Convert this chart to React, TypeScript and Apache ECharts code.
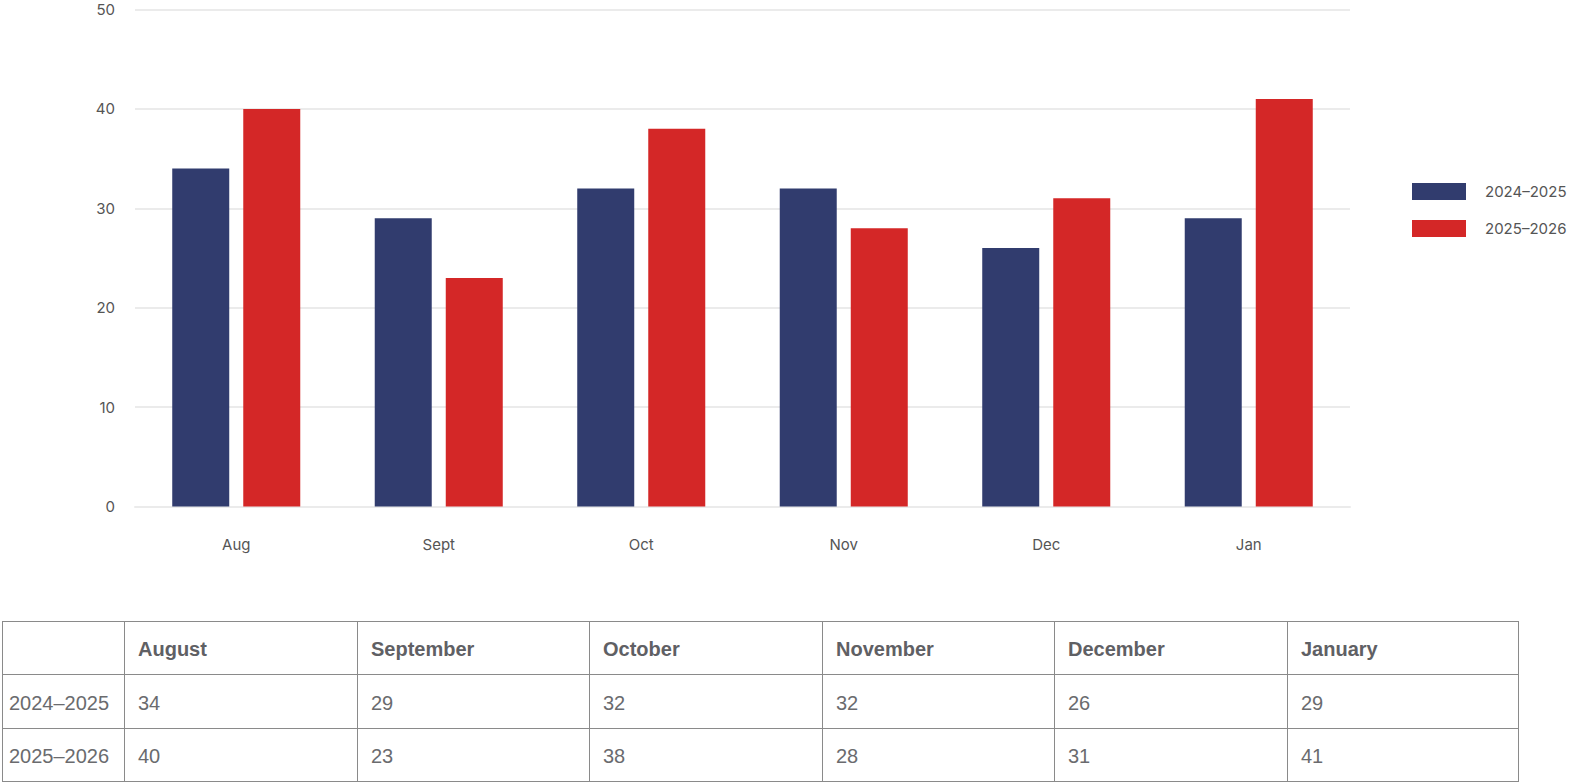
import React, { useEffect, useRef } from "react";
import * as echarts from "echarts";

const categories = ["Aug", "Sept", "Oct", "Nov", "Dec", "Jan"];
const monthNames = ["August", "September", "October", "November", "December", "January"];
const seriesNames = ["2024–2025", "2025–2026"];
const values2425 = [34, 29, 32, 32, 26, 29];
const values2526 = [40, 23, 38, 28, 31, 41];
const colors = ["#313c6e", "#d42727"];

const W = 1574;
const H = 783;
const colEdges = [2, 124, 357, 589, 822, 1054, 1287, 1519];
const rowEdges = [621, 674, 728, 782];

function Table() {
  const rows: { label: string; cells: string[]; bold: boolean }[] = [
    { label: "", cells: monthNames, bold: true },
    { label: seriesNames[0], cells: values2425.map(String), bold: false },
    { label: seriesNames[1], cells: values2526.map(String), bold: false },
  ];
  const border = "1px solid #8a8a8a";
  const cells: React.ReactNode[] = [];
  rows.forEach((r, ri) => {
    const all = [r.label, ...r.cells];
    all.forEach((txt, ci) => {
      const x0 = colEdges[ci];
      const x1 = colEdges[ci + 1];
      const y0 = rowEdges[ri];
      const y1 = rowEdges[ri + 1];
      cells.push(
        <div
          key={ri + "-" + ci}
          style={{
            position: "absolute",
            left: x0,
            top: y0,
            width: x1 - x0,
            height: y1 - y0,
            boxSizing: "border-box",
            borderLeft: border,
            borderTop: border,
            borderRight: ci === all.length - 1 ? border : undefined,
            borderBottom: ri === rows.length - 1 ? border : undefined,
            display: "flex",
            alignItems: "center",
            paddingLeft: ci === 0 ? 6 : 13,
            paddingTop: 3,
            fontFamily: "'Liberation Sans', Arial, sans-serif",
            fontSize: 20,
            fontWeight: r.bold ? 700 : 400,
            color: r.bold ? "#5f6064" : "#6a6b6e",
            whiteSpace: "nowrap",
          }}
        >
          {txt}
        </div>
      );
    });
  });
  return <>{cells}</>;
}

export default function App() {
  const ref = useRef<HTMLDivElement>(null);
  useEffect(() => {
    if (!ref.current) return;
    const chart = echarts.init(ref.current, undefined, { renderer: "svg" });
    const labelFont = { fontFamily: "Inter, 'Open Sans', sans-serif", fontSize: 15, color: "#555" };
    chart.setOption({
      animation: false,
      color: colors,
      grid: { left: 135, right: 224, top: 9.5, bottom: 276.5, containLabel: false },
      legend: {
        orient: "vertical",
        left: 1412,
        top: 183,
        padding: 0,
        itemWidth: 54,
        itemHeight: 17,
        itemGap: 20,
        icon: "rect",
        data: seriesNames,
        textStyle: { ...labelFont, padding: [0, 0, 0, 14] },
      },
      xAxis: {
        type: "category",
        data: categories,
        axisTick: { show: false },
        axisLine: { lineStyle: { color: "#ebebeb", width: 2 } },
        axisLabel: { ...labelFont, margin: 30 },
      },
      yAxis: {
        type: "value",
        min: 0,
        max: 50,
        interval: 10,
        axisLine: { show: false },
        axisTick: { show: false },
        axisLabel: { ...labelFont, margin: 20 },
        splitLine: { lineStyle: { color: "#ebebeb", width: 2 } },
      },
      series: [
        { name: seriesNames[0], type: "bar", data: values2425, barWidth: 57, barGap: "24.6%" },
        { name: seriesNames[1], type: "bar", data: values2526, barWidth: 57, barGap: "24.6%" },
      ],
    });
    return () => chart.dispose();
  }, []);
  return (
    <div style={{ position: "absolute", left: 0, top: 0, width: W, height: H, background: "#fff" }}>
      <div ref={ref} style={{ position: "absolute", left: 0, top: 0, width: W, height: H }} />
      <Table />
    </div>
  );
}
